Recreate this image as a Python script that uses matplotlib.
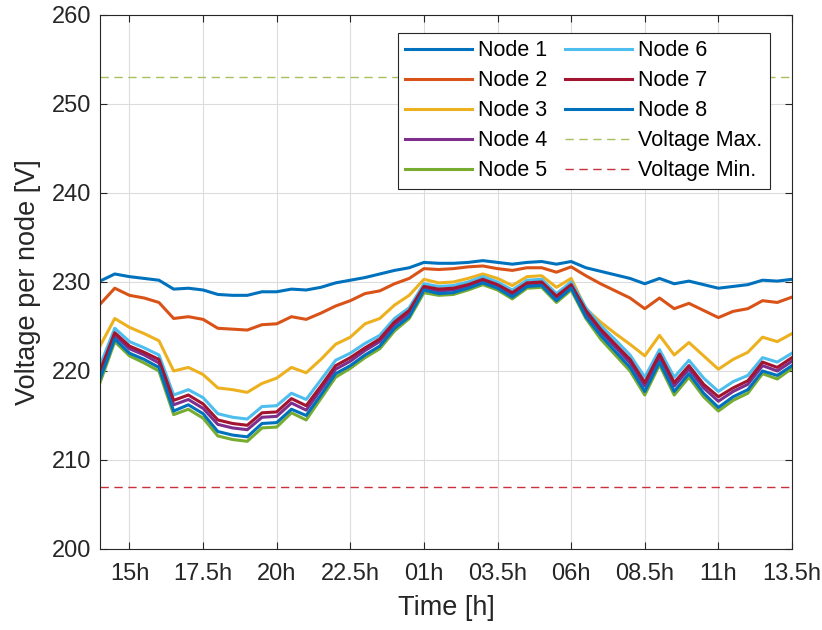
import numpy as np
import matplotlib.pyplot as plt

# --- Datos ---
# tiempo en horas desde las 14h, pasos de 30 min
hours = np.arange(14, 38, 0.5)

node1 = [230.1, 230.9, 230.6, 230.4, 230.2, 229.2, 229.3, 229.1, 228.6, 228.5,
         228.5, 228.9, 228.9, 229.2, 229.1, 229.4, 229.9, 230.2, 230.5, 230.9,
         231.3, 231.6, 232.2, 232.1, 232.1, 232.2, 232.4, 232.2, 232.0, 232.2,
         232.3, 232.0, 232.3, 231.6, 231.2, 230.8, 230.4, 229.8, 230.4, 229.8,
         230.1, 229.7, 229.3, 229.5, 229.7, 230.2, 230.1, 230.3]
node2 = [227.5, 229.3, 228.5, 228.2, 227.7, 225.9, 226.1, 225.8, 224.8, 224.7,
         224.6, 225.2, 225.3, 226.1, 225.8, 226.5, 227.3, 227.9, 228.7, 229.0,
         229.8, 230.4, 231.5, 231.4, 231.5, 231.7, 231.8, 231.5, 231.3, 231.6,
         231.6, 231.1, 231.7, 230.7, 229.8, 229.0, 228.2, 227.0, 228.2, 227.0,
         227.6, 226.8, 226.0, 226.7, 227.0, 227.9, 227.7, 228.3]
node3 = [222.8, 225.9, 224.9, 224.2, 223.4, 220.0, 220.4, 219.6, 218.1, 217.9,
         217.6, 218.6, 219.2, 220.4, 219.8, 221.3, 223.0, 223.8, 225.3, 225.9,
         227.4, 228.5, 230.3, 229.9, 230.0, 230.4, 230.9, 230.4, 229.6, 230.6,
         230.7, 229.4, 230.4, 227.0, 225.5, 224.2, 223.0, 221.7, 224.0, 221.8,
         223.2, 221.7, 220.2, 221.3, 222.1, 223.8, 223.3, 224.2]
node4 = [219.6, 224.0, 222.5, 221.8, 220.9, 216.2, 216.8, 215.8, 214.0, 213.6,
         213.4, 214.8, 214.9, 216.4, 215.6, 217.9, 220.2, 221.1, 222.3, 223.3,
         225.2, 226.5, 229.3, 229.0, 229.1, 229.5, 230.1, 229.5, 228.6, 229.7,
         229.8, 228.2, 229.5, 226.5, 224.4, 222.7, 220.9, 218.3, 221.5, 218.3,
         220.2, 218.1, 216.6, 217.7, 218.5, 220.6, 220.0, 221.1]
node5 = [218.7, 223.3, 221.7, 220.9, 220.0, 215.1, 215.7, 214.7, 212.7, 212.3,
         212.1, 213.6, 213.7, 215.3, 214.5, 216.9, 219.3, 220.3, 221.5, 222.5,
         224.5, 225.9, 228.8, 228.5, 228.6, 229.1, 229.7, 229.1, 228.1, 229.3,
         229.4, 227.7, 229.1, 225.9, 223.6, 221.8, 220.0, 217.3, 220.7, 217.3,
         219.3, 217.1, 215.5, 216.7, 217.5, 219.7, 219.1, 220.3]
node6 = [220.6, 224.8, 223.3, 222.6, 221.8, 217.3, 217.9, 217.0, 215.2, 214.8,
         214.6, 216.0, 216.1, 217.5, 216.8, 219.0, 221.2, 222.0, 223.1, 224.0,
         225.9, 227.1, 229.8, 229.5, 229.6, 230.0, 230.6, 230.0, 229.1, 230.2,
         230.3, 228.7, 230.0, 227.1, 225.1, 223.5, 221.8, 219.3, 222.4, 219.3,
         221.2, 219.2, 217.7, 218.8, 219.5, 221.5, 221.0, 222.0]
node7 = [220.0, 224.3, 222.8, 222.1, 221.3, 216.7, 217.3, 216.3, 214.5, 214.1,
         213.9, 215.3, 215.4, 216.9, 216.1, 218.3, 220.6, 221.5, 222.6, 223.6,
         225.5, 226.8, 229.5, 229.2, 229.3, 229.7, 230.3, 229.7, 228.8, 229.9,
         230.0, 228.4, 229.7, 226.8, 224.7, 223.0, 221.3, 218.7, 221.9, 218.7,
         220.6, 218.5, 217.1, 218.1, 218.9, 221.0, 220.4, 221.5]
node8 = [219.1, 223.6, 222.0, 221.3, 220.4, 215.5, 216.2, 215.2, 213.2, 212.8,
         212.6, 214.1, 214.2, 215.7, 215.0, 217.3, 219.7, 220.6, 221.8, 222.8,
         224.8, 226.1, 229.1, 228.7, 228.8, 229.3, 229.9, 229.3, 228.3, 229.5,
         229.6, 227.9, 229.3, 226.1, 224.0, 222.2, 220.4, 217.7, 221.0, 217.7,
         219.7, 217.5, 215.9, 217.1, 217.9, 220.0, 219.5, 220.6]

v_max = 253
v_min = 207

tick_pos = [15, 17.5, 20, 22.5, 25, 27.5, 30, 32.5, 35, 37.5]
tick_labels = ["15h", "17.5h", "20h", "22.5h", "01h", "03.5h", "06h", "08.5h", "11h", "13.5h"]

series = [node1, node2, node3, node4, node5, node6, node7, node8]
names = [f"Node {i}" for i in range(1, 9)]
colors = ["#0072BD", "#D95319", "#EDB120", "#7E2F8E", "#77AC30",
          "#4DBEEE", "#A2142F", "#0072BD"]

plt.rcParams["font.family"] = ["Liberation Sans", "DejaVu Sans"]

fig = plt.figure(figsize=(8.22, 6.3), dpi=100)
ax = fig.add_axes([0.1217, 0.1286, 0.8418, 0.8476])

for vals, name, c in zip(series, names, colors):
    ax.plot(hours, vals, color=c, lw=2.2, label=name)

ax.axhline(v_max, color="#a8c060", lw=1, ls=(0, (6, 4)), label="Voltage Max.")
ax.axhline(v_min, color="#c8323c", lw=1, ls=(0, (6, 4)), label="Voltage Min.")

ax.set_xlim(14, 37.5)
ax.set_ylim(200, 260)
ax.set_xticks(tick_pos)
ax.set_xticklabels(tick_labels)
ax.set_yticks([200, 210, 220, 230, 240, 250, 260])

ax.grid(True, color="#dcdcdc", lw=0.8)
ax.tick_params(direction="in", top=True, right=True, labelsize=17,
               colors="#262626", length=5, width=0.8, pad=6)
ax.tick_params(axis="x", pad=10)
for s in ax.spines.values():
    s.set_color("#262626")
    s.set_linewidth(0.8)

ax.set_xlabel("Time [h]", fontsize=19.5, color="#262626", labelpad=7)
ax.set_ylabel("Voltage per node [V]", fontsize=19.5, color="#262626", labelpad=8)

leg = ax.legend(ncol=2, loc="upper right", bbox_to_anchor=(0.968, 0.967),
                fontsize=15.5, handlelength=3.1, columnspacing=0.8,
                handletextpad=0.3, labelspacing=0.42, borderpad=0.35,
                borderaxespad=0, fancybox=False, framealpha=1)
leg.get_frame().set_edgecolor("#262626")
leg.get_frame().set_linewidth(0.8)

plt.savefig("out.png")
